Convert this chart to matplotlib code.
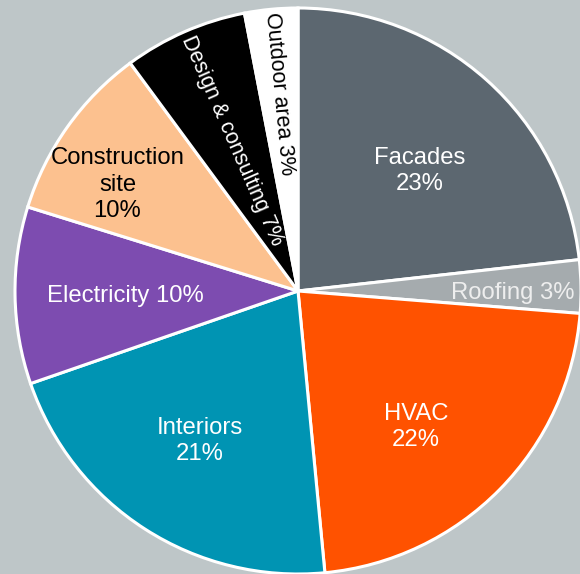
import numpy as np
import matplotlib
matplotlib.use("Agg")
import matplotlib.pyplot as plt

# Cost breakdown by trade (percent)
categories = ["Facades", "Roofing", "HVAC", "Interiors", "Electricity",
              "Construction site", "Design & consulting", "Outdoor area"]
shares = [23, 3, 22, 21, 10, 10, 7, 3]
labels = ["Facades\n23%", "Roofing 3%", "HVAC\n22%", "Interiors\n21%",
          "Electricity 10%", "Construction\nsite\n10%",
          "Design & consulting 7%", "Outdoor area 3%"]

colors = ["#5c6770", "#a5abae", "#ff5200", "#0094b3", "#7d4cb0",
          "#fcc18f", "#000000", "#ffffff"]
text_colors = ["white", "#eeeeee", "white", "white", "white",
               "black", "white", "black"]
# label placement: radius fraction and angular nudge (deg) from wedge middle
label_r = [0.605, 0.76, 0.636, 0.633, 0.612, 0.74, 0.58, 0.70]
label_nudge = [-3.7, -1.5, -4.5, -0.5, 0.8, 5.0, 0.0, 0.0]
radial_text = [False, False, False, False, False, False, True, True]

plt.rcParams["font.family"] = ["Liberation Sans", "DejaVu Sans"]

W, H = 580, 574
fig = plt.figure(figsize=(W / 100, H / 100), dpi=100)
fig.patch.set_facecolor("#bec6c8")
ax = fig.add_axes([0, 0, 1, 1])
ax.set_facecolor("#bec6c8")

cx, cy, R = 298, 283, 283
wedges, _ = ax.pie(shares, colors=colors, startangle=90, counterclock=False,
                   center=(cx, cy), radius=R, frame=True,
                   wedgeprops=dict(edgecolor="white", linewidth=2.2))

for w, lab, tc, rf, dn, radial in zip(wedges, labels, text_colors, label_r,
                                      label_nudge, radial_text):
    mid_deg = (w.theta1 + w.theta2) / 2
    mid = np.deg2rad(mid_deg + dn)
    x = cx + rf * R * np.cos(mid)
    y = cy + rf * R * np.sin(mid)
    rot = mid_deg - 180 if radial else 0
    ax.text(x, y, lab, ha="center", va="center", color=tc,
            fontsize=15.5 if radial else 17.2,
            rotation=rot, rotation_mode="anchor", linespacing=1.27)

ax.set_xlim(0, W)
ax.set_ylim(0, H)
ax.set_aspect("equal")
ax.axis("off")

fig.savefig("out.png", dpi=100, facecolor=fig.get_facecolor())
